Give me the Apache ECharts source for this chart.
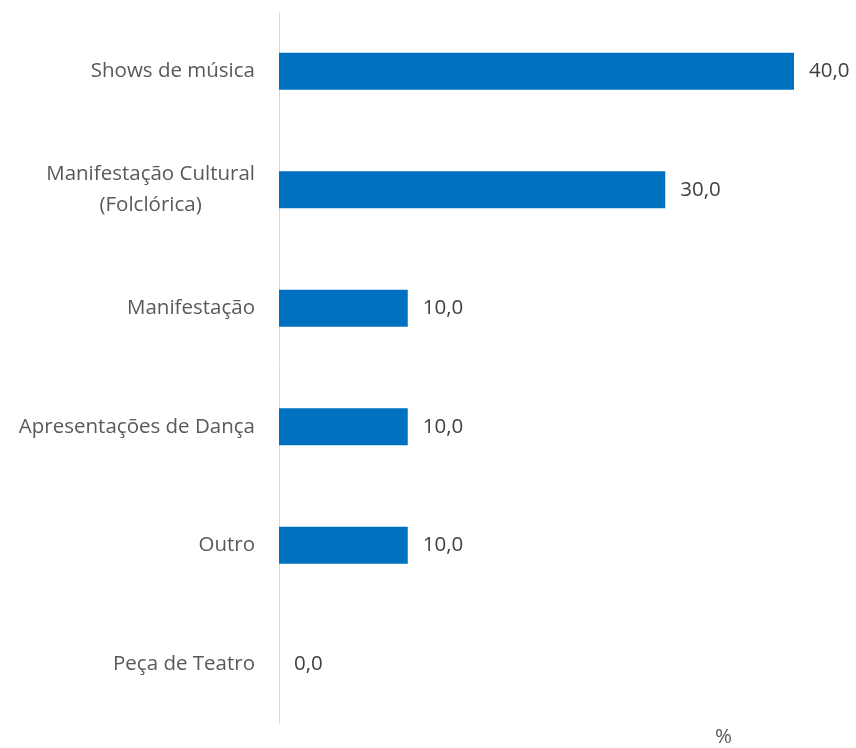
<!DOCTYPE html>
<html><head><meta charset="utf-8">
<script src="https://cdn.jsdelivr.net/npm/echarts@6/dist/echarts.min.js"></script>
<style>html,body{margin:0;padding:0;background:#fff}#c{width:856px;height:748px}</style>
</head><body><div id="c"></div>
<script>
var categories = ['Shows de música', 'Manifestação Cultural\n(Folclórica)', 'Manifestação', 'Apresentações de Dança', 'Outro', 'Peça de Teatro'];
var values = [40, 30, 10, 10, 10, 0];
var unitLabel = '%';

var chart = echarts.init(document.getElementById('c'));
var FONT = 'Open Sans';
var FS = 20.5;
chart.setOption({
  animation: false,
  grid: {left: 279, top: 12, width: 515, bottom: 25, containLabel: false},
  xAxis: {type: 'value', min: 0, max: 40, show: false},
  yAxis: {
    type: 'category', inverse: true, data: categories,
    axisLine: {show: true, lineStyle: {color: '#d9d9d9', width: 1}},
    axisTick: {show: false},
    axisLabel: {
      margin: 24, color: '#595959', fontFamily: FONT, fontSize: FS, lineHeight: 31,
      formatter: function (v) {
        return v.split('\n').map(function (s) { return '{c|' + s + '}'; }).join('\n');
      },
      rich: {c: {align: 'center', color: '#595959', fontFamily: FONT, fontSize: FS, lineHeight: 31}}
    }
  },
  series: [{
    type: 'bar', data: values, barWidth: 37,
    itemStyle: {color: '#0070C0'},
    label: {show: true, position: 'right', distance: 15, color: '#404040', fontFamily: FONT, fontSize: FS,
      formatter: function (p) { return p.value.toFixed(1).replace('.', ','); }}
  }],
  graphic: [{type: 'text', left: 715, top: 727, style: {text: unitLabel, fill: '#595959', font: FS + 'px "Open Sans"'}}]
});
</script></body></html>
